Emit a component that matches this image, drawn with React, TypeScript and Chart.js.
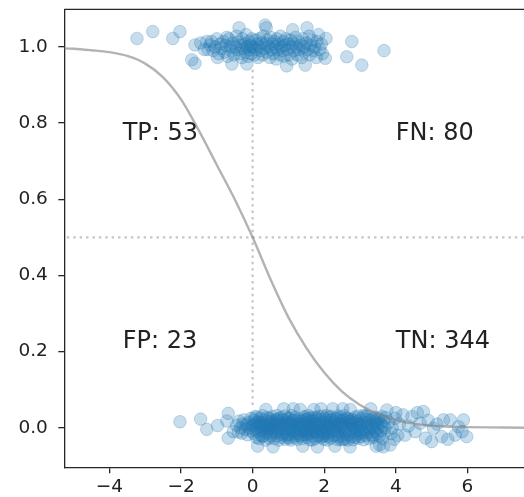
import React, { useEffect, useRef } from 'react';
import { Chart, registerables } from 'chart.js';

Chart.register(...registerables);

// ---- axes ----
const xMin = -5.26;
const xMax = 7.6;
const yMin = -0.1035;
const yMax = 1.0985;
const xTickValues = [-4, -2, 0, 2, 4, 6];
const xTickLabels = ['−4', '−2', '0', '2', '4', '6'];
const yTickValues = [0, 0.2, 0.4, 0.6, 0.8, 1.0];
const yTickLabels = ['0.0', '0.2', '0.4', '0.6', '0.8', '1.0'];

// ---- decision threshold guides ----
const thresholdX = 0;
const thresholdY = 0.5;
const vGuideYRange = [0.06, 0.94];

// ---- fitted curve ----
const curveX = [-5.6, -5, -4.5, -4, -3.5, -3, -2.5, -2, -1.5, -1, -0.5, 0, 0.5, 1, 1.5, 2, 2.5, 3, 3.5, 4, 4.5, 5, 5.5, 6, 7, 8];
const curveY = [0.997, 0.995, 0.991, 0.986, 0.976, 0.956, 0.92, 0.862, 0.78, 0.69, 0.6, 0.5, 0.39, 0.29, 0.21, 0.145, 0.095, 0.06, 0.036, 0.02, 0.011, 0.006, 0.003, 0.002, 0.001, 0.0];

// ---- quadrant labels ----
const quadrantLabels = ['TP: 53', 'FN: 80', 'FP: 23', 'TN: 344'];
const quadrantLabelX = [-3.63, 4.0, -3.63, 4.0];
const quadrantLabelY = [0.773, 0.773, 0.226, 0.226];

// ---- observations: label 1, x < 0 ----
const tpPoints = [
  [-3.23, 1.022], [-2.79, 1.04], [-2.23, 1.022], [-2.03, 1.04], [-1.7, 0.966], [-1.61, 0.957], [-1.61, 1.005], [-1.45, 1.01], [-1.28, 1.014], [-1.19, 1.005],
  [-1.25, 0.993], [-1.15, 1.014], [-1.1, 0.99], [-1.05, 1.0], [-1.0, 1.021], [-0.95, 0.982], [-0.9, 1.007], [-0.88, 0.996], [-0.82, 1.014], [-0.78, 0.986],
  [-0.75, 1.004], [-0.7, 0.975], [-0.66, 1.021], [-0.62, 1.0], [-0.6, 0.99], [-0.55, 1.01], [-0.52, 0.979], [-0.48, 1.0], [-0.45, 1.028], [-0.42, 0.993],
  [-0.4, 1.014], [-0.36, 0.982], [-0.33, 1.004], [-0.3, 0.972], [-0.28, 1.021], [-0.25, 0.996], [-0.22, 1.007], [-0.2, 0.986], [-0.18, 1.032], [-0.15, 1.0],
  [-0.13, 0.975], [-0.1, 1.014], [-0.08, 0.993], [-0.06, 1.004], [-0.04, 0.982], [-0.02, 1.021], [-1.35, 0.993], [-0.98, 0.972], [-0.72, 1.025], [-0.58, 0.955],
  [-0.38, 1.05], [-0.16, 0.955], [-0.05, 1.0],
];

// ---- observations: label 1, x > 0 ----
const fnPoints = [
  [0.35, 1.057], [1.47, 0.952], [2.03, 0.97], [2.05, 1.022], [2.63, 0.974], [2.77, 1.014], [3.05, 0.952], [3.67, 0.99],
  [0.02, 1.0], [0.05, 0.979], [0.08, 1.018], [0.1, 0.993], [0.12, 1.007], [0.15, 0.972], [0.18, 1.021], [0.2, 1.0], [0.22, 0.99], [0.25, 1.01],
  [0.28, 0.979], [0.3, 1.028], [0.33, 0.996], [0.36, 1.007], [0.4, 0.986], [0.42, 1.018], [0.45, 1.0], [0.48, 0.972], [0.5, 1.025], [0.53, 0.993],
  [0.55, 1.007], [0.58, 0.982], [0.6, 1.014], [0.63, 1.0], [0.66, 0.968], [0.68, 1.021], [0.7, 0.993], [0.73, 1.007], [0.76, 0.979], [0.78, 1.028],
  [0.8, 1.0], [0.83, 0.99], [0.86, 1.014], [0.88, 0.975], [0.9, 1.004], [0.93, 1.021], [0.96, 0.993], [1.0, 1.007], [1.02, 0.979], [1.05, 1.018],
  [1.08, 1.0], [1.1, 0.968], [1.13, 1.01], [1.16, 0.99], [1.2, 1.025], [1.22, 1.0], [1.25, 0.979], [1.28, 1.014], [1.3, 0.993], [1.34, 1.004],
  [1.37, 0.972], [1.4, 1.021], [1.43, 1.0], [1.46, 0.986], [1.5, 1.01], [1.54, 0.993], [1.58, 1.028], [1.6, 0.979], [1.63, 1.004], [1.66, 1.018],
  [1.7, 0.99], [1.74, 1.0], [1.78, 0.972], [1.8, 1.014], [1.84, 1.032], [1.88, 0.993], [1.92, 1.007], [1.95, 0.982], [0.38, 1.05], [0.95, 0.95],
  [1.52, 1.05], [1.12, 1.045],
];

// ---- observations: label 0, x < 0 ----
const fpPoints = [
  [-2.03, 0.016], [-1.45, 0.023], [-1.28, -0.004], [-0.98, 0.006], [-0.68, 0.038], [-0.68, -0.027], [-0.72, 0.018], [-0.54, -0.01],
  [-0.45, 0.007], [-0.4, -0.011], [-0.38, 0.018], [-0.33, 0.0], [-0.3, -0.014], [-0.27, 0.01], [-0.24, 0.021], [-0.2, -0.004],
  [-0.17, 0.008], [-0.14, -0.018], [-0.12, 0.014], [-0.09, 0.0], [-0.06, -0.008], [-0.04, 0.025], [-0.02, 0.006],
];

// ---- observations: label 0, x > 0 ----
const tnPoints = [
  [0.02, 0.007], [0.03, -0.014], [0.05, 0.021], [0.06, -0.004], [0.08, 0.01], [0.1, -0.025], [0.11, 0.028], [0.13, 0.0], [0.15, -0.01], [0.16, 0.018],
  [0.18, -0.028], [0.2, 0.007], [0.21, 0.025], [0.23, -0.018], [0.25, 0.004], [0.26, -0.007], [0.28, 0.032], [0.3, 0.014], [0.31, -0.021], [0.33, 0.0],
  [0.35, 0.021], [0.36, -0.032], [0.38, 0.008], [0.4, -0.013], [0.41, 0.027], [0.43, -0.004], [0.45, 0.015], [0.46, -0.027], [0.48, 0.006], [0.49, -0.015],
  [0.07, 0.03], [0.14, -0.048], [0.22, 0.014], [0.29, -0.001], [0.37, 0.048], [0.44, 0.0], [0.12, 0.013], [0.27, -0.022], [0.34, 0.007], [0.47, 0.025],
  [0.5, 0.0], [0.51, -0.021], [0.53, 0.018], [0.55, -0.008], [0.56, 0.03], [0.58, 0.006], [0.6, -0.028], [0.61, 0.013], [0.63, -0.014], [0.65, 0.022],
  [0.66, -0.003], [0.68, 0.032], [0.7, -0.02], [0.71, 0.008], [0.73, -0.032], [0.75, 0.018], [0.76, -0.007], [0.78, 0.003], [0.8, 0.027], [0.81, -0.025],
  [0.83, 0.011], [0.85, -0.013], [0.86, 0.021], [0.88, -0.001], [0.9, 0.031], [0.91, -0.03], [0.93, 0.007], [0.95, -0.017], [0.96, 0.017], [0.98, -0.006],
  [0.99, 0.025], [0.52, 0.01], [0.57, -0.05], [0.62, 0.004], [0.67, -0.011], [0.72, 0.024], [0.77, 0.0], [0.82, -0.018], [0.87, 0.05], [0.92, 0.014],
  [0.97, -0.024], [0.64, 0.02],
  [1.0, 0.007], [1.01, -0.018], [1.03, 0.025], [1.04, -0.004], [1.06, 0.014], [1.07, -0.032], [1.09, 0.032], [1.1, 0.0], [1.12, -0.01], [1.13, 0.02],
  [1.15, -0.025], [1.16, 0.008], [1.18, -0.007], [1.19, 0.028], [1.21, -0.02], [1.22, 0.004], [1.24, 0.017], [1.25, -0.03], [1.27, 0.011], [1.28, -0.014],
  [1.3, 0.022], [1.31, -0.001], [1.33, 0.048], [1.34, -0.022], [1.36, 0.006], [1.37, -0.008], [1.39, 0.018], [1.4, -0.048], [1.42, 0.013], [1.43, -0.004],
  [1.45, 0.027], [1.46, -0.017], [1.48, 0.001], [1.49, 0.021], [1.02, -0.027], [1.08, 0.01], [1.14, 0.05], [1.2, -0.014], [1.26, 0.0], [1.32, 0.01],
  [1.38, -0.028], [1.44, 0.03], [1.47, -0.01], [1.11, 0.018], [1.35, -0.018],
  [1.5, -0.007], [1.51, 0.021], [1.53, -0.025], [1.54, 0.008], [1.56, 0.032], [1.57, -0.014], [1.59, 0.003], [1.6, -0.031], [1.62, 0.018], [1.63, -0.004],
  [1.65, 0.027], [1.66, -0.021], [1.68, 0.011], [1.69, -0.01], [1.71, 0.048], [1.72, 0.0], [1.74, -0.028], [1.75, 0.015], [1.77, -0.013], [1.78, 0.024],
  [1.8, -0.001], [1.81, -0.05], [1.83, 0.007], [1.84, 0.03], [1.86, -0.018], [1.87, 0.013], [1.89, -0.006], [1.9, 0.021], [1.92, -0.025], [1.93, 0.004],
  [1.95, 0.031], [1.96, -0.011], [1.98, 0.014], [1.99, -0.03], [1.52, 0.014], [1.55, -0.018], [1.58, 0.025], [1.61, -0.001], [1.64, 0.007], [1.67, -0.032],
  [1.7, 0.02], [1.73, -0.008], [1.76, 0.028], [1.79, 0.01], [1.82, -0.022], [1.85, 0.001], [1.91, 0.05], [1.97, -0.021],
  [2.0, 0.0], [2.01, 0.025], [2.03, -0.021], [2.04, 0.01], [2.06, -0.008], [2.07, 0.032], [2.09, -0.032], [2.1, 0.006], [2.12, 0.018], [2.13, -0.014],
  [2.15, 0.028], [2.16, -0.003], [2.18, 0.013], [2.19, -0.027], [2.21, 0.021], [2.22, -0.01], [2.24, 0.05], [2.25, 0.001], [2.27, -0.02], [2.28, 0.015],
  [2.3, -0.048], [2.31, 0.008], [2.33, -0.006], [2.34, 0.025], [2.36, -0.017], [2.37, 0.003], [2.39, 0.031], [2.4, -0.024], [2.42, 0.011], [2.43, -0.011],
  [2.45, 0.02], [2.46, -0.03], [2.48, 0.004], [2.49, 0.017], [2.02, -0.015], [2.05, 0.02], [2.08, 0.0], [2.11, -0.022], [2.14, 0.007], [2.2, 0.03],
  [2.26, -0.007], [2.32, 0.024], [2.38, -0.031], [2.44, 0.0], [2.47, 0.028],
  [2.5, 0.007], [2.51, -0.021], [2.53, 0.021], [2.55, -0.007], [2.56, 0.032], [2.58, -0.028], [2.6, 0.013], [2.61, -0.011], [2.63, 0.025], [2.65, 0.0],
  [2.66, -0.032], [2.68, 0.017], [2.7, -0.017], [2.71, 0.006], [2.73, 0.048], [2.75, -0.024], [2.76, 0.01], [2.78, -0.004], [2.8, 0.022], [2.81, -0.031],
  [2.83, 0.014], [2.85, -0.013], [2.86, 0.028], [2.88, 0.001], [2.9, -0.02], [2.91, 0.018], [2.93, -0.007], [2.95, 0.031], [2.96, -0.027], [2.98, 0.008],
  [2.52, 0.05], [2.57, 0.003], [2.62, -0.018], [2.67, 0.024], [2.72, -0.05], [2.77, 0.015], [2.82, 0.0], [2.87, -0.025], [2.92, 0.011], [2.97, -0.014],
  [2.54, -0.031], [2.74, 0.021],
  [3.0, 0.0], [3.02, -0.022], [3.03, 0.025], [3.05, 0.008], [3.07, -0.013], [3.08, 0.032], [3.1, -0.031], [3.12, 0.014], [3.13, -0.004], [3.15, 0.021],
  [3.17, -0.02], [3.18, 0.004], [3.2, 0.03], [3.22, -0.011], [3.23, 0.013], [3.25, -0.028], [3.27, 0.02], [3.28, -0.003], [3.3, 0.05], [3.32, -0.017],
  [3.33, 0.007], [3.35, 0.024], [3.37, -0.025], [3.38, 0.0], [3.4, 0.017], [3.42, -0.01], [3.43, 0.028], [3.45, -0.048], [3.47, 0.01], [3.48, -0.015],
  [3.04, -0.007], [3.14, 0.031], [3.24, 0.0], [3.34, -0.021], [3.44, 0.014], [3.49, 0.021],
  [3.5, 0.0], [3.52, 0.025], [3.54, -0.021], [3.56, 0.01], [3.58, -0.008], [3.6, 0.03], [3.62, -0.028], [3.64, 0.006], [3.66, 0.018], [3.68, -0.014],
  [3.7, 0.001], [3.72, 0.027], [3.55, -0.045], [3.65, -0.05],
  [3.75, 0.047], [3.84, -0.045], [3.98, 0.025], [3.9, 0.0], [4.05, -0.02], [4.2, 0.034], [4.26, -0.019], [4.45, 0.03], [4.54, -0.01], [4.68, 0.012],
  [4.77, 0.043], [4.83, -0.027], [5.0, -0.036], [5.05, -0.001], [5.28, -0.023], [5.33, 0.021], [5.52, 0.021], [5.66, -0.019], [5.75, 0.003], [5.89, 0.021],
  [5.98, -0.023], [3.8, 0.015], [3.95, -0.03], [4.1, 0.01], [4.35, 0.005], [4.6, 0.04], [4.9, 0.02], [5.15, 0.01], [5.45, -0.03], [5.85, -0.01],
  [4.0, 0.04], [3.88, -0.015],
];

const pointFill = 'rgba(31,119,180,0.25)';
const pointEdge = 'rgba(31,119,180,0.25)';
const toXY = (pts: number[][]) => pts.map(([x, y]) => ({ x, y }));

const overlayPlugin = {
  id: 'overlay',
  afterDatasetsDraw(chart: any) {
    const { ctx, chartArea, scales } = chart;
    ctx.save();
    // top spine
    ctx.strokeStyle = '#262626';
    ctx.lineWidth = 1.3;
    ctx.beginPath();
    ctx.moveTo(chartArea.left, chartArea.top);
    ctx.lineTo(chartArea.right, chartArea.top);
    ctx.stroke();
    // quadrant labels
    ctx.fillStyle = '#222';
    ctx.font = '24px "DejaVu Sans"';
    ctx.textAlign = 'left';
    ctx.textBaseline = 'middle';
    quadrantLabels.forEach((t, i) => {
      ctx.fillText(t, scales.x.getPixelForValue(quadrantLabelX[i]), scales.y.getPixelForValue(quadrantLabelY[i]));
    });
    ctx.restore();
  },
};

const scatterStyle = { backgroundColor: pointFill, borderColor: pointEdge, borderWidth: 1, pointRadius: 6.3, order: 2 };

export default function App() {
  const ref = useRef<HTMLCanvasElement>(null);
  useEffect(() => {
    if (!ref.current) return;
    const chart = new Chart(ref.current, {
      type: 'scatter',
      data: {
        datasets: [
          {
            data: curveX.map((x, i) => ({ x, y: curveY[i] })),
            showLine: true,
            borderColor: 'rgba(128,128,128,0.6)',
            borderWidth: 2.4,
            pointRadius: 0,
            cubicInterpolationMode: 'monotone',
            order: 0,
          } as any,
          {
            data: [{ x: xMin - 1, y: thresholdY }, { x: xMax + 1, y: thresholdY }],
            showLine: true,
            borderColor: '#c4c4c4',
            borderWidth: 2.2,
            borderDash: [2.4, 4],
            pointRadius: 0,
            order: 1,
          } as any,
          { data: toXY(tpPoints), ...scatterStyle },
          { data: toXY(fnPoints), ...scatterStyle },
          { data: toXY(fpPoints), ...scatterStyle },
          { data: toXY(tnPoints), ...scatterStyle },
          {
            data: [{ x: thresholdX, y: vGuideYRange[0] }, { x: thresholdX, y: vGuideYRange[1] }],
            showLine: true,
            borderColor: '#c4c4c4',
            borderWidth: 2.2,
            borderDash: [2.4, 4],
            pointRadius: 0,
            order: 3,
          } as any,
        ],
      },
      options: {
        responsive: false,
        animation: false,
        events: [],
        layout: { padding: { top: 9.3, right: 0, bottom: 0, left: 0 } },
        plugins: { legend: { display: false }, tooltip: { enabled: false } },
        scales: {
          x: {
            type: 'linear',
            min: xMin,
            max: xMax,
            afterBuildTicks: (s: any) => { s.ticks = xTickValues.map((v) => ({ value: v })); },
            afterFit: (s: any) => { s.height = 29.7; s.paddingLeft = 0; s.paddingRight = 0; },
            ticks: {
              callback: (_v: any, i: number) => xTickLabels[i],
              font: { family: 'DejaVu Sans', size: 18.5 },
              color: '#222',
              padding: 3,
              maxRotation: 0,
              autoSkip: false,
            },
            grid: { display: true, drawOnChartArea: false, drawTicks: true, tickLength: 6, color: '#262626', lineWidth: 1.3 },
            border: { display: true, color: '#262626', width: 1.3 },
          },
          y: {
            type: 'linear',
            min: yMin,
            max: yMax,
            afterBuildTicks: (s: any) => { s.ticks = yTickValues.map((v) => ({ value: v })); },
            afterFit: (s: any) => { s.width = 64.3; s.paddingTop = 0; s.paddingBottom = 0; },
            ticks: {
              callback: (_v: any, i: number) => yTickLabels[i],
              font: { family: 'DejaVu Sans', size: 18.5 },
              color: '#222',
              padding: 10.5,
              autoSkip: false,
            },
            grid: { display: true, drawOnChartArea: false, drawTicks: true, tickLength: 6, color: '#262626', lineWidth: 1.3 },
            border: { display: true, color: '#262626', width: 1.3 },
          },
        },
      } as any,
      plugins: [overlayPlugin],
    });
    return () => chart.destroy();
  }, []);
  return (
    <div style={{ position: 'absolute', left: 0, top: 0, width: 524, height: 497, overflow: 'hidden', background: '#fff' }}>
      <canvas ref={ref} width={532} height={497} style={{ display: 'block' }} />
    </div>
  );
}
